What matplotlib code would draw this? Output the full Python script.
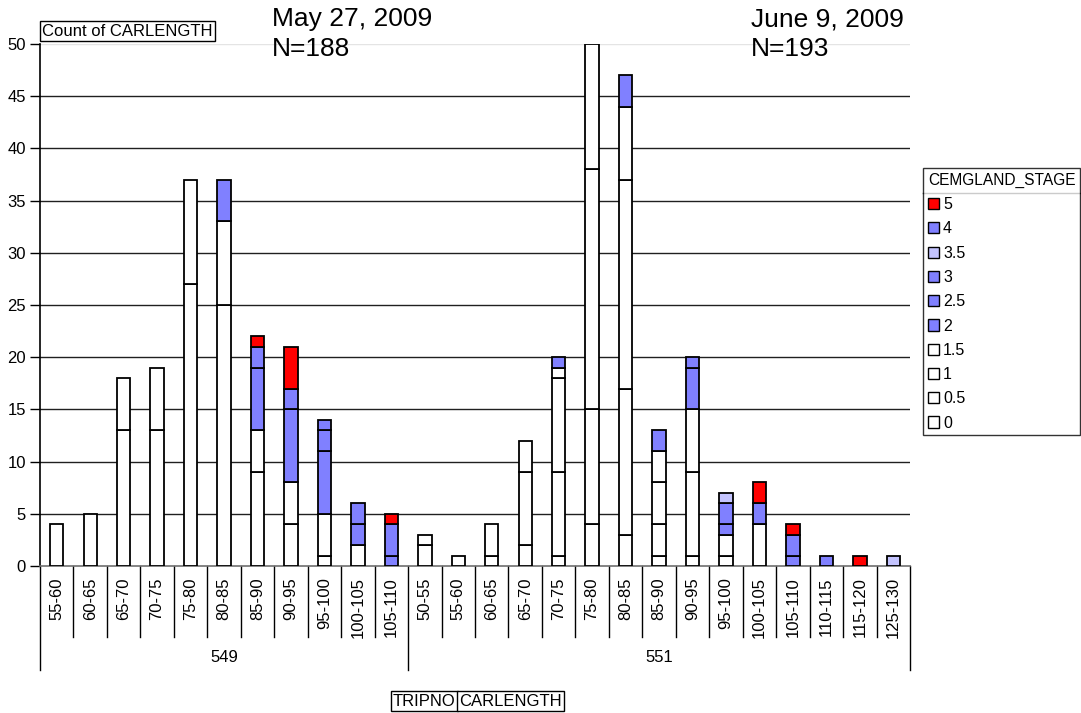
import numpy as np
import matplotlib
matplotlib.use('Agg')
import matplotlib.pyplot as plt
from matplotlib.patches import Patch
import matplotlib.transforms as mtransforms

plt.rcParams['font.family'] = ['Liberation Sans', 'DejaVu Sans']

# Trip groups and CARLENGTH classes
trips = ['549', '551']
lengths_549 = ['55-60', '60-65', '65-70', '70-75', '75-80', '80-85', '85-90',
               '90-95', '95-100', '100-105', '105-110']
lengths_551 = ['50-55', '55-60', '60-65', '65-70', '70-75', '75-80', '80-85',
               '85-90', '90-95', '95-100', '100-105', '105-110', '110-115',
               '115-120', '125-130']

# Counts per CEMGLAND_STAGE (549 first, then 551)
stage_0 = [4, 5, 13, 13, 27, 25, 9, 4, 1, 2, 0,
           2, 1, 1, 2, 1, 4, 3, 1, 1, 1, 4, 0, 0, 0, 0]
stage_05 = [0, 0, 5, 6, 10, 8, 4, 4, 4, 0, 0,
            1, 0, 3, 7, 8, 11, 14, 3, 8, 2, 0, 0, 0, 0, 0]
stage_1 = [0, 0, 0, 0, 0, 0, 0, 0, 0, 0, 0,
           0, 0, 0, 3, 9, 23, 20, 4, 6, 0, 0, 0, 0, 0, 0]
stage_15 = [0, 0, 0, 0, 0, 0, 0, 0, 0, 0, 0,
            0, 0, 0, 0, 1, 12, 7, 3, 0, 0, 0, 0, 0, 0, 0]
stage_2 = [0, 0, 0, 0, 0, 4, 6, 7, 6, 2, 1,
           0, 0, 0, 0, 1, 0, 3, 2, 4, 1, 2, 1, 1, 0, 0]
stage_25 = [0, 0, 0, 0, 0, 0, 2, 2, 2, 2, 3,
            0, 0, 0, 0, 0, 0, 0, 0, 1, 2, 0, 2, 0, 0, 0]
stage_3 = [0, 0, 0, 0, 0, 0, 0, 0, 1, 0, 0,
           0, 0, 0, 0, 0, 0, 0, 0, 0, 0, 0, 0, 0, 0, 0]
stage_35 = [0, 0, 0, 0, 0, 0, 0, 0, 0, 0, 0,
            0, 0, 0, 0, 0, 0, 0, 0, 0, 1, 0, 0, 0, 0, 1]
stage_4 = [0, 0, 0, 0, 0, 0, 0, 0, 0, 0, 0,
           0, 0, 0, 0, 0, 0, 0, 0, 0, 0, 0, 0, 0, 0, 0]
stage_5 = [0, 0, 0, 0, 0, 0, 1, 4, 0, 0, 1,
           0, 0, 0, 0, 0, 0, 0, 0, 0, 0, 2, 1, 0, 1, 0]

stage_names = ['0', '0.5', '1', '1.5', '2', '2.5', '3', '3.5', '4', '5']
stage_data = [stage_0, stage_05, stage_1, stage_15, stage_2, stage_25,
              stage_3, stage_35, stage_4, stage_5]

WHITE = '#FFFFFF'
BLUE = '#8080FF'
LIGHT = '#C4C4FF'
RED = '#FF0000'
stage_colors = [WHITE, WHITE, WHITE, WHITE, BLUE, BLUE, BLUE, LIGHT, BLUE, RED]

labels = lengths_549 + lengths_551
x = np.arange(len(labels))

fig = plt.figure(figsize=(10.81, 7.13), dpi=100)
ax = fig.add_axes([40 / 1081, 1 - 566 / 713, 870 / 1081, 522 / 713])

# gridlines
for yv in range(5, 50, 5):
    ax.axhline(yv, color='#202020', lw=1.0, zorder=0)
ax.axhline(50, color='#e4e4e4', lw=1.0, zorder=0)

# stacked bars
bottom = np.zeros(len(labels))
for vals, col in zip(stage_data, stage_colors):
    vals = np.array(vals, dtype=float)
    mask = vals > 0
    ax.bar(x[mask], vals[mask], bottom=bottom[mask], width=0.40,
           color=col, edgecolor='black', linewidth=1.3, zorder=3)
    bottom += vals

ax.set_xlim(-0.5, len(labels) - 0.5)
ax.set_ylim(0, 50)
ax.set_yticks(range(0, 51, 5))
ax.tick_params(axis='y', length=7, width=1, pad=3, labelsize=12)
ax.set_xticks(x)
ax.set_xticklabels(labels, rotation=90, fontsize=12, va='top')
ax.tick_params(axis='x', length=0, pad=8)

for s in ['top', 'right']:
    ax.spines[s].set_visible(False)
ax.spines['left'].set_linewidth(1.2)
ax.spines['bottom'].set_color('#707070')
ax.spines['bottom'].set_linewidth(1.2)

# category dividers below the axis
trans = mtransforms.blended_transform_factory(ax.transData, ax.transAxes)
n1 = len(lengths_549)
for k in range(len(labels) + 1):
    xp = k - 0.5
    depth = -0.20 if k in (0, n1, len(labels)) else -0.136
    ax.plot([xp, xp], [0, depth], color='black', lw=1.0,
            transform=trans, clip_on=False)

ax.text((n1 - 1) / 2, -0.176, trips[0], transform=trans, ha='center',
        va='center', fontsize=12)
ax.text(n1 + (len(lengths_551) - 1) / 2, -0.176, trips[1], transform=trans,
        ha='center', va='center', fontsize=12)

# date annotations
fig.text(272 / 1081, 1 - 7 / 713, 'May 27, 2009\nN=188', fontsize=19,
         va='top', ha='left', linespacing=1.3)
fig.text(751 / 1081, 1 - 7 / 713, 'June 9, 2009\nN=193', fontsize=19,
         va='top', ha='left', linespacing=1.3)

# field buttons
box = dict(boxstyle='square,pad=0.15', facecolor='white', edgecolor='black', lw=1)
fig.text(42 / 1081, 1 - 31 / 713, 'Count of CARLENGTH', fontsize=12,
         va='center', ha='left', bbox=box)
fig.text(393 / 1081, 1 - 701 / 713, 'TRIPNO', fontsize=12,
         va='center', ha='left', bbox=box)
fig.text(459 / 1081, 1 - 701 / 713, 'CARLENGTH', fontsize=12,
         va='center', ha='left', bbox=box)

# legend
handles = [Patch(facecolor=c, edgecolor='black', linewidth=1.0, label=n)
           for n, c in zip(stage_names, stage_colors)][::-1]
leg = fig.legend(handles=handles, title='CEMGLAND_STAGE', loc='upper left',
                 bbox_to_anchor=(923 / 1081, 1 - 168 / 713), fontsize=11.5,
                 title_fontsize=11.2, frameon=True, fancybox=False,
                 edgecolor='black', handlelength=0.7, handleheight=0.7,
                 handletextpad=0.25, labelspacing=0.58, borderpad=0.3,
                 borderaxespad=0)
leg.get_frame().set_linewidth(1.0)
leg._legend_box.align = 'left'
fig.add_artist(plt.Line2D([923 / 1081, 1.0], [1 - 193 / 713, 1 - 193 / 713],
                          color='black', lw=1.0, transform=fig.transFigure))

fig.savefig('out.png', dpi=100)
